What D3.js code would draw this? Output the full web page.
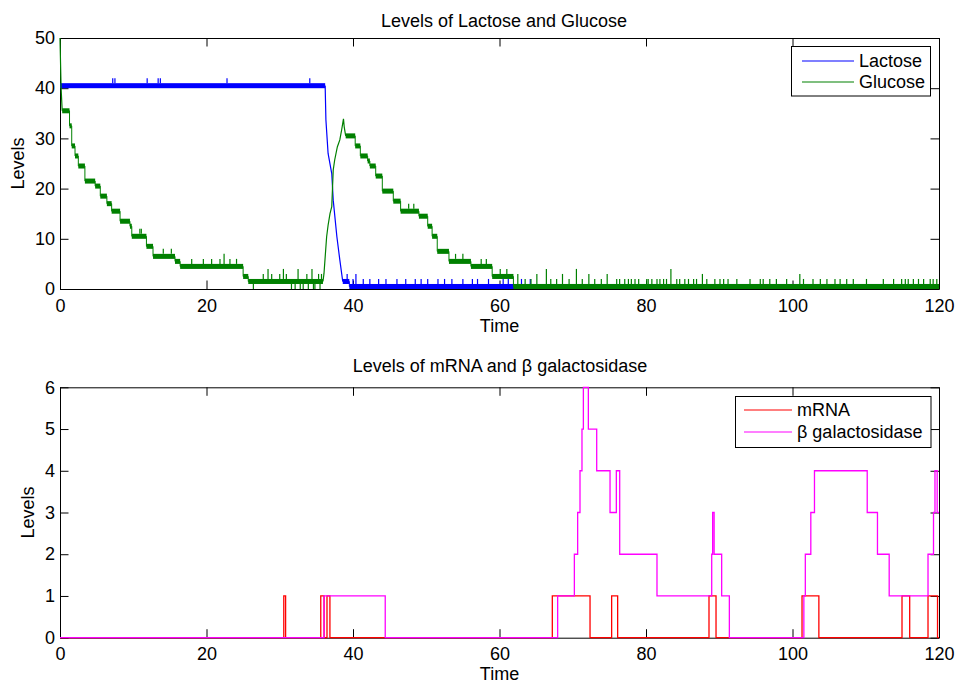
<!DOCTYPE html>
<html>
<head>
<meta charset="utf-8">
<script src="https://cdn.jsdelivr.net/npm/d3@7"></script>
<style>
  body { margin: 0; background: #fff; }
  text { font-family: "Liberation Sans", Arial, Helvetica, sans-serif; font-size: 18px; fill: #000; }
  .axis path, .axis line { stroke: #000; stroke-width: 1; }
  .axis text { font-size: 18px; }
</style>
</head>
<body>
<svg id="chart" width="956" height="683"></svg>
<script>
// ---- data ----
var timeTicks = [0, 20, 40, 60, 80, 100, 120];
var topLevelTicks = [0, 10, 20, 30, 40, 50];
var bottomLevelTicks = [0, 1, 2, 3, 4, 5, 6];

// noisy stretches: [tStart, tEnd, low, high]
var lactoseBands = [
  [0, 36.2, 40, 41],
  [38.6, 39.5, 1, 2],
  [39.5, 120, 0, 1]
];
// the fast drop after the switch: [t, level]
var lactoseRamp = [[36.2, 40.5], [36.3, 33.7], [36.6, 27], [37.1, 23], [37.3, 17.7],
  [37.8, 10.4], [38.2, 5.8], [38.6, 1.5]];
// single excursions out of the band: [t, level]
var lactoseSpikes = [[7.2, 42], [7.5, 42], [11.9, 42], [13.4, 42], [13.7, 42], [22.8, 42], [34.1, 42],
  [39.2, 3], [40.0, 2], [40.4, 3], [41.4, 2], [42.3, 2], [43.5, 2], [44.5, 2], [46.0, 2], [47.2, 2],
  [48.5, 2], [49.3, 2], [50.2, 2], [51.6, 2], [52.5, 2], [53.5, 2], [55.0, 2], [56.3, 2], [57.0, 2],
  [58.5, 2], [60.5, 2], [61.2, 2], [63.0, 2], [64.2, 2]];

var glucoseBands = [
  [0.3, 1.3, 35, 36], [1.3, 1.6, 32, 33], [1.6, 2.05, 28, 29], [2.05, 2.5, 26, 27],
  [2.5, 3.4, 24, 25], [3.4, 4.8, 21, 22], [4.8, 5.5, 20, 21], [5.5, 6.4, 18, 19],
  [6.4, 7.05, 16.5, 17.5], [7.05, 8.2, 15, 16], [8.2, 9.55, 13, 14], [9.55, 9.8, 12, 13],
  [9.8, 11.8, 10, 11], [11.8, 12.7, 8, 9], [12.7, 15.7, 6, 7], [15.7, 16.4, 5, 6],
  [16.4, 25.0, 4, 5], [25.0, 25.7, 2, 3], [25.7, 35.9, 1, 2],
  [39.0, 40.3, 30, 31], [40.3, 41.0, 28, 29], [41.0, 42.0, 26, 27], [42.0, 42.3, 25, 26],
  [42.3, 43.1, 24, 25], [43.1, 44.0, 22, 23], [44.0, 45.5, 19, 20], [45.5, 46.5, 17, 18],
  [46.5, 49.0, 15, 16], [49.0, 50.2, 14, 15], [50.2, 50.8, 12, 13], [50.8, 51.5, 10, 11],
  [51.5, 53.1, 7, 8], [53.1, 56.1, 5, 6], [56.1, 59.0, 4, 5], [59.0, 61.9, 2, 3],
  [61.9, 120, 0, 1]
];
var glucoseStart = [[0, 50], [0.15, 40], [0.3, 35.5]];
var glucoseRamp = [[35.9, 1.5], [36.04, 3.1], [36.4, 10.4], [36.6, 12.7], [36.86, 15], [37.1, 16.4],
  [37.3, 23.7], [37.5, 25.7], [37.86, 28.3], [38.2, 29.7], [38.45, 31.7], [38.7, 33.9],
  [38.8, 32.3], [39.0, 30.5]];
var glucoseSpikes = [
  [10.9, 12], [11.1, 12], [14.1, 8], [15.2, 8], [17.98, 6], [19.57, 6], [20.7, 6], [21.84, 6],
  [22.4, 7], [23.2, 6], [24.1, 6], [27.75, 3], [28.4, 4], [28.9, 3], [30.0, 3], [30.5, 4], [30.9, 3],
  [32.5, 4], [33.7, 3], [34.4, 4], [35.3, 3], [35.7, 3],
  [26.4, 0], [31.6, 0], [32.1, 0], [32.8, 0], [33.2, 0], [33.9, 0], [34.6, 0], [34.8, 0], [35.5, 0],
  [47.6, 17], [48.3, 17], [54.0, 7], [55.0, 7], [57.5, 6], [58.2, 6], [60.1, 4], [61.0, 4],
  [62.5, 3], [63.5, 2], [64.3, 2], [65.1, 3], [66.4, 4], [67.0, 2], [67.8, 2], [68.6, 3], [69.5, 2],
  [70.5, 4], [71.3, 2], [72.2, 3], [73.0, 2], [73.9, 2], [74.7, 3], [76.0, 2], [76.4, 2], [77.1, 2],
  [77.6, 2], [78.0, 2], [78.5, 2], [79.0, 2], [80.1, 2], [80.3, 2], [80.8, 2], [81.5, 2], [81.9, 2],
  [82.4, 2], [82.8, 2], [83.4, 4], [84.2, 2], [84.6, 2], [85.3, 2], [85.8, 2], [86.5, 2], [86.9, 2],
  [87.7, 3], [88.3, 2], [89.4, 2], [90.1, 2], [90.6, 2], [91.2, 2], [92.4, 2], [94.2, 2], [95.6, 2],
  [96.0, 2], [96.9, 2], [97.8, 2], [99.2, 2], [101.0, 3], [101.5, 2], [102.8, 2], [103.8, 2],
  [104.7, 2], [105.8, 2], [106.5, 2], [107.4, 2], [108.3, 2], [110.1, 2], [112.4, 2], [113.8, 2],
  [114.9, 2], [115.4, 2], [115.8, 2], [116.5, 2], [117.2, 2], [117.9, 2], [118.8, 2], [119.2, 2],
  [119.7, 2]];

// step series: [t, level] where the level changes
var mRNA = [[0, 0], [30.55, 1], [30.8, 0], [35.6, 1], [36.05, 0], [36.45, 1], [36.85, 0],
  [67.21, 1], [72.36, 0], [75.31, 1], [76.13, 0], [88.6, 1], [89.56, 0], [101.3, 1], [103.6, 0],
  [114.95, 1], [116.0, 0], [118.5, 1], [119.8, 0], [120, 0]];
var betaGal = [[0, 0], [36.05, 1], [44.4, 0], [67.94, 1], [70.22, 2], [70.67, 3], [70.99, 4],
  [71.26, 5], [71.45, 6], [72.13, 5], [73.27, 4], [75.09, 3], [75.95, 4], [76.41, 2], [81.5, 1],
  [88.97, 2], [89.1, 3], [89.3, 2], [90.33, 1], [91.38, 0], [101.55, 1], [101.75, 2], [102.5, 3],
  [103.0, 4], [110.2, 3], [111.6, 2], [113.2, 1], [118.5, 2], [119.25, 3], [119.45, 4],
  [119.75, 3], [120, 3]];

var blue = "#0000ff", green = "#008000", red = "#ff0000", magenta = "#ff00ff";

var svg = d3.select("#chart");

var x = d3.scaleLinear().domain([0, 120]).range([60, 939]);
var yTop = d3.scaleLinear().domain([0, 50]).range([289, 38]);
var yBot = d3.scaleLinear().domain([0, 6]).range([637.7, 387.3]);

function drawAxes(y, ticks, title, titleX, titleY, ylabelX) {
  var r = y.range();
  var g = svg.append("g");
  g.append("g").attr("class", "axis").attr("transform", "translate(0," + r[0] + ")")
    .call(d3.axisBottom(x).tickValues(timeTicks).tickSizeInner(-8.5).tickSizeOuter(0).tickPadding(10));
  g.append("g").attr("class", "axis").attr("transform", "translate(0," + r[1] + ")")
    .call(d3.axisTop(x).tickValues(timeTicks).tickSizeInner(-8.5).tickSizeOuter(0).tickFormat(""));
  g.append("g").attr("class", "axis").attr("transform", "translate(60,0)")
    .call(d3.axisLeft(y).tickValues(ticks).tickSizeInner(-8.5).tickSizeOuter(0).tickPadding(5)
      .tickFormat(d3.format("d")));
  g.append("g").attr("class", "axis").attr("transform", "translate(939,0)")
    .call(d3.axisRight(y).tickValues(ticks).tickSizeInner(-8.5).tickSizeOuter(0).tickFormat(""));
  g.selectAll(".axis text").attr("fill", "#000").style("font-family", "'Liberation Sans', Arial, sans-serif");

  g.append("text").attr("x", titleX).attr("y", titleY).attr("text-anchor", "middle").text(title);
  g.append("text").attr("x", 499.5).attr("y", r[0] + 42.7).attr("text-anchor", "middle").text("Time");
  g.append("text").attr("transform", "translate(" + ylabelX + "," + ((r[0] + r[1]) / 2) + ") rotate(-90)")
    .attr("text-anchor", "middle").attr("dy", "0.35em").text("Levels");
}

drawAxes(yTop, topLevelTicks, "Levels of Lactose and Glucose", 504, 26.7, 18);
drawAxes(yBot, bottomLevelTicks, "Levels of mRNA and \u03b2 galactosidase", 500, 372, 27.5);

// ---- top panel: noisy simulation traces ----
function drawNoisy(bands, ramps, spikes, colour) {
  var g = svg.append("g");
  g.selectAll("rect").data(bands).join("rect")
    .attr("x", function (d) { return x(d[0]); })
    .attr("width", function (d) { return x(d[1]) - x(d[0]); })
    .attr("y", function (d) { return yTop(d[3]); })
    .attr("height", function (d) { return yTop(d[2]) - yTop(d[3]); })
    .attr("fill", colour);

  // connect neighbouring bands through their middles
  var mids = [];
  bands.forEach(function (b) {
    var m = (b[2] + b[3]) / 2;
    mids.push([b[0], m], [b[1], m]);
  });
  var line = d3.line().x(function (d) { return x(d[0]); }).y(function (d) { return yTop(d[1]); });
  var runs = [[]];
  mids.forEach(function (p, i) {
    if (i > 0 && i % 2 === 0 && Math.abs(mids[i - 1][0] - p[0]) > 1e-6) runs.push([]);
    runs[runs.length - 1].push(p);
  });
  runs.forEach(function (r) {
    g.append("path").attr("d", line(r)).attr("fill", "none").attr("stroke", colour).attr("stroke-width", 1);
  });
  ramps.forEach(function (r) {
    g.append("path").attr("d", line(r)).attr("fill", "none").attr("stroke", colour).attr("stroke-width", 1.2);
  });

  g.selectAll("line.spike").data(spikes).join("line").attr("class", "spike")
    .attr("x1", function (d) { return x(d[0]); })
    .attr("x2", function (d) { return x(d[0]); })
    .attr("y1", function (d) {
      var b = bands.find(function (b) { return d[0] >= b[0] && d[0] <= b[1]; });
      if (!b) return yTop(d[1]);
      return yTop(d[1] > b[3] ? b[3] : b[2]);
    })
    .attr("y2", function (d) { return yTop(d[1]); })
    .attr("stroke", colour).attr("stroke-width", 1.2);
}

drawNoisy(lactoseBands, [lactoseRamp], lactoseSpikes, blue);
drawNoisy(glucoseBands, [glucoseStart, glucoseRamp], glucoseSpikes, green);

// ---- bottom panel: step traces ----
var stepLine = d3.line().curve(d3.curveStepAfter)
  .x(function (d) { return x(d[0]); }).y(function (d) { return yBot(d[1]); });
svg.append("path").attr("d", stepLine(mRNA)).attr("fill", "none").attr("stroke", red).attr("stroke-width", 1.3);
svg.append("path").attr("d", stepLine(betaGal)).attr("fill", "none").attr("stroke", magenta).attr("stroke-width", 1.3);

// ---- legends ----
function legend(x0, y0, w, h, items, lineX0, lineX1, rowY) {
  var g = svg.append("g");
  g.append("rect").attr("x", x0).attr("y", y0).attr("width", w).attr("height", h)
    .attr("fill", "#fff").attr("stroke", "#000").attr("stroke-width", 1);
  items.forEach(function (it, i) {
    var yy = rowY[i];
    g.append("line").attr("x1", lineX0).attr("x2", lineX1).attr("y1", yy).attr("y2", yy)
      .attr("stroke", it[1]).attr("stroke-width", 1.2);
    g.append("text").attr("x", lineX1 + 5).attr("y", yy).attr("dy", "0.35em").text(it[0]);
  });
}
legend(791.5, 46.5, 139, 49.5, [["Lactose", blue], ["Glucose", green]], 802, 854, [61, 82]);
legend(735.5, 396.5, 195.5, 51, [["mRNA", red], ["\u03b2 galactosidase", magenta]], 744, 792, [410, 432]);
</script>
</body>
</html>
